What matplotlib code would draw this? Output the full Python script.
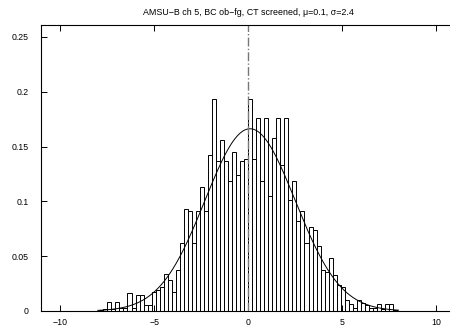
import numpy as np
import matplotlib
matplotlib.use("Agg")
import matplotlib.pyplot as plt
from matplotlib.ticker import FormatStrFormatter

plt.rcParams['font.family'] = ['Liberation Sans', 'DejaVu Sans']

# histogram of ob-fg departures (normalised), bins of equal width
bin_width = 0.214
first_edge = -37 * bin_width
heights = [
    0.001, 0.002, 0.0085, 0.0015, 0.0085, 0.0025, 0.0025, 0.0167, 0.0025, 0.0143,
    0.0143, 0.0055, 0.0055, 0.0173, 0.019, 0.022, 0.034, 0.028, 0.017, 0.037,
    0.062, 0.093, 0.091, 0.062, 0.091, 0.113, 0.091, 0.142, 0.193, 0.137,
    0.156, 0.137, 0.119, 0.145, 0.124, 0.137, 0.139, 0.193, 0.139, 0.176,
    0.119, 0.176, 0.105, 0.158, 0.176, 0.133, 0.176, 0.101, 0.119, 0.082,
    0.091, 0.062, 0.077, 0.074, 0.059, 0.037, 0.036, 0.048, 0.033, 0.024,
    0.022, 0.010, 0.006, 0.003, 0.010, 0.007, 0.005, 0.0025, 0.0025, 0.006,
    0.002, 0.006, 0.006, 0.001,
]

# fitted gaussian (values from the title)
mu = 0.1
sigma = 2.4

x_ticks = [-10, -5, 0, 5, 10]
y_ticks = [0, 0.05, 0.1, 0.15, 0.2, 0.25]
title = "AMSU\u2212B ch 5, BC ob\u2212fg, CT screened, \u03bc=0.1, \u03c3=2.4"

fig = plt.figure(figsize=(4.5, 3.27), dpi=100)
ax = fig.add_axes([0.092, 0.049, 0.919, 0.875])

edges = first_edge + bin_width * np.arange(len(heights))
ax.bar(edges, heights, width=bin_width, align='edge',
       facecolor='white', edgecolor='black', linewidth=0.7)

xs = np.linspace(-8, 8, 400)
pdf = np.exp(-0.5 * ((xs - mu) / sigma) ** 2) / (sigma * np.sqrt(2 * np.pi))
ax.plot(xs, pdf, color='black', lw=0.7)

ax.axvline(0, color='#777777', lw=1.0, ls='-.')

ax.set_xlim(-11, 11)
ax.set_ylim(0, 0.261)
ax.set_xticks(x_ticks)
ax.set_yticks(y_ticks)
ax.yaxis.set_major_formatter(FormatStrFormatter('%g'))
ax.tick_params(direction='in', length=4, width=0.7, labelsize=6.3,
               top=True, right=False)
ax.tick_params(axis='x', pad=5)
ax.tick_params(axis='y', pad=9)
for s in ax.spines.values():
    s.set_linewidth(0.8)

fig.text(0.551, 0.963, title, ha='center', va='center', fontsize=6.4)

fig.savefig('out.png', dpi=100)
